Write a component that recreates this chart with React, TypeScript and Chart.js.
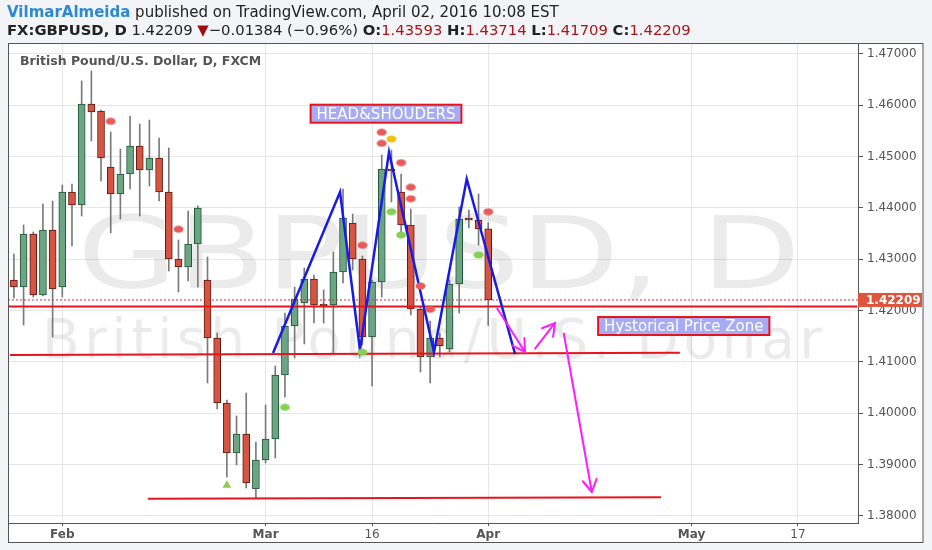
import React, { useEffect, useRef } from "react";
import { Chart, registerables } from "chart.js";

Chart.register(...registerables);

// ---------- data (bar index 0 = Feb 1, 2016; one index per trading day) ----------
const barIndex = [
  -5, -4, -3, -2, -1, 0, 1, 2, 3, 4, 5, 6, 7, 8, 9, 10, 11, 12, 13, 14,
  15, 16, 17, 18, 19, 20, 21, 22, 23, 24, 25, 26, 27, 28, 29, 30, 31, 32, 33, 34,
  35, 36, 37, 38, 39, 40, 41, 42, 43, 44,
];
const opens = [
  1.42598, 1.42461, 1.43494, 1.42305, 1.43572, 1.42461, 1.44312, 1.44059, 1.46026, 1.4589,
  1.44799, 1.44273, 1.44662, 1.45208, 1.4474, 1.44974, 1.44312, 1.43007, 1.42851, 1.43299,
  1.42598, 1.41468, 1.40202, 1.39227, 1.39598, 1.38526, 1.39091, 1.395, 1.40747, 1.41701,
  1.42149, 1.42617, 1.42111, 1.42111, 1.42753, 1.43708, 1.43007, 1.41487, 1.42559, 1.4476,
  1.44312, 1.43669, 1.42033, 1.41098, 1.41468, 1.41253, 1.4252, 1.43786, 1.43766, 1.43593,
];
const highs = [
  1.43104, 1.43669, 1.43533, 1.44078, 1.44136, 1.44448, 1.44468, 1.46474, 1.46669, 1.45909,
  1.45481, 1.45149, 1.45792, 1.45636, 1.45714, 1.45364, 1.45169, 1.43377, 1.43942, 1.44039,
  1.43046, 1.41565, 1.4026, 1.39948, 1.40396, 1.39442, 1.40163, 1.40922, 1.41955, 1.42461,
  1.42831, 1.42695, 1.42403, 1.43143, 1.4437, 1.43883, 1.43065, 1.42598, 1.45033, 1.4513,
  1.44662, 1.43981, 1.42072, 1.41799, 1.41565, 1.42598, 1.4402, 1.43961, 1.44273, 1.43714,
];
const lows = [
  1.42247, 1.41721, 1.42266, 1.42286, 1.41487, 1.42266, 1.4326, 1.43844, 1.45305, 1.44526,
  1.43513, 1.43786, 1.4437, 1.43844, 1.44429, 1.44136, 1.42773, 1.42364, 1.42578, 1.42461,
  1.40591, 1.40085, 1.3876, 1.38994, 1.38546, 1.38351, 1.39033, 1.3913, 1.40318, 1.41078,
  1.41351, 1.4176, 1.4176, 1.41176, 1.42539, 1.42792, 1.41331, 1.40533, 1.42266, 1.44117,
  1.43435, 1.41916, 1.40805, 1.40591, 1.41098, 1.41195, 1.41955, 1.4361, 1.43279, 1.41709,
];
const closes = [
  1.42461, 1.43494, 1.42305, 1.43572, 1.42422, 1.44312, 1.44059, 1.46026, 1.4587, 1.44974,
  1.44273, 1.44662, 1.45208, 1.4474, 1.44974, 1.44312, 1.43007, 1.42851, 1.43299, 1.44,
  1.41468, 1.40202, 1.39227, 1.39598, 1.38643, 1.39091, 1.395, 1.40747, 1.41701, 1.42227,
  1.42617, 1.42111, 1.42091, 1.42753, 1.43805, 1.43007, 1.41487, 1.42559, 1.4476, 1.44721,
  1.43669, 1.42033, 1.41098, 1.41468, 1.41312, 1.4252, 1.43786, 1.43766, 1.43591, 1.42209,
];

const lastPrice = 1.42209;

const xTickIndex = [0, 21, 32, 44, 65, 76];
const xTickLabels = ["Feb", "Mar", "16", "Apr", "May", "17"];
const yTickValues = [1.38, 1.39, 1.4, 1.41, 1.42, 1.43, 1.44, 1.45, 1.46, 1.47];
const xRange = [-5.61, 82.2];
const yRange = [1.378636, 1.471948];

// indicator markers
const redDotX = [5, 12, 31, 33, 33, 35, 36, 36, 37, 38, 44];
const redDotY = [1.45689, 1.43585, 1.43274, 1.45475, 1.4526, 1.44883, 1.44403, 1.44181, 1.42481, 1.42027, 1.43928];
const greenDotX = [23, 31, 34, 35, 43];
const greenDotY = [1.40118, 1.41189, 1.43928, 1.43474, 1.43084];
const yellowDotX = [34];
const yellowDotY = [1.45344];
const triangleX = [17];
const triangleY = [1.38597];

// drawings
const zigzagX = [21.77, 28.69, 30.75, 33.75, 38.4, 41.78, 46.77];
const zigzagY = [1.41176, 1.44312, 1.41234, 1.45091, 1.41195, 1.44565, 1.41156];
const levelTopX = [-5.61, 82.1];
const levelTopY = [1.4208, 1.4208];
const levelMidX = [-5.4, 63.8];
const levelMidY = [1.41137, 1.41182];
const levelLowX = [8.85, 61.85];
const levelLowY = [1.38337, 1.38364];
const arrow1X = [44.9, 47.8];
const arrow1Y = [1.42052, 1.41195];
const arrow2X = [48.8, 50.9];
const arrow2Y = [1.41253, 1.4176];
const arrow3X = [51.8, 54.7];
const arrow3Y = [1.41565, 1.38468];

const noteTexts = ["HEAD&SHOUDERS", "Hystorical Price Zone"];
const noteX = [33.44, 64.2];
const noteY = [1.45837, 1.41701];

// ---------- helpers ----------
const pts = (xs: number[], ys: number[]) => xs.map((x, i) => ({ x, y: ys[i] }));

function ellipseCanvas(color: string) {
  const c = document.createElement("canvas");
  c.width = 11;
  c.height = 8;
  const g = c.getContext("2d")!;
  g.fillStyle = color;
  g.beginPath();
  g.ellipse(5.5, 4, 5, 3.5, 0, 0, Math.PI * 2);
  g.fill();
  return c;
}

const UP = "#6ba583";
const DOWN = "#d75442";
const UP_BORDER = "#225437";
const DOWN_BORDER = "#5b1a13";
const LEVEL_RED = "#e8141c";
const MAGENTA = "#ff1cff";

const decorPlugin = {
  id: "decor",
  beforeDraw(chart: any) {
    const { ctx, width, height, chartArea } = chart;
    const yS = chart.scales.y;
    const xS = chart.scales.x;
    ctx.save();
    ctx.fillStyle = "#f2f4f7";
    ctx.fillRect(0, 0, width, height);
    ctx.fillStyle = "#ffffff";
    ctx.fillRect(chartArea.left, chartArea.top, yS.right - chartArea.left, xS.bottom - chartArea.top);
    ctx.restore();
  },
  beforeDatasetsDraw(chart: any) {
    const { ctx, chartArea } = chart;
    ctx.save();
    ctx.fillStyle = "rgba(0,0,0,0.08)";
    ctx.textBaseline = "alphabetic";
    ctx.font = '100px "DejaVu Sans"';
    ctx.textAlign = "center";
    ctx.translate(chartArea.left + (chartArea.right - chartArea.left) * 0.507, chartArea.top + 244);
    ctx.scale(1.29, 1);
    ctx.fillText("GBPUSD, D", 0, 0);
    ctx.restore();
    ctx.save();
    ctx.fillStyle = "rgba(0,0,0,0.08)";
    ctx.textBaseline = "alphabetic";
    ctx.font = '55px "DejaVu Sans"';
    ctx.textAlign = "left";
    (ctx as any).letterSpacing = "4.5px";
    ctx.fillText("British Pound/U.S. Dollar", chartArea.left + 34, chartArea.top + 314);
    ctx.restore();
    // chart title
    ctx.save();
    ctx.fillStyle = "#555555";
    ctx.font = 'bold 12.5px "DejaVu Sans"';
    ctx.textBaseline = "middle";
    ctx.textAlign = "left";
    ctx.fillText("British Pound/U.S. Dollar, D, FXCM", chartArea.left + 12, chartArea.top + 18);
    ctx.restore();
  },
  afterDatasetsDraw(chart: any) {
    const { ctx } = chart;
    const xS = chart.scales.x;
    const yS = chart.scales.y;
    // arrow heads
    chart.data.datasets.forEach((ds: any, i: number) => {
      if (!ds.arrowHead) return;
      const meta = chart.getDatasetMeta(i);
      const n = meta.data.length;
      const p1 = meta.data[n - 2];
      const p2 = meta.data[n - 1];
      const ang = Math.atan2(p2.y - p1.y, p2.x - p1.x);
      const L = 14;
      const a = (30 * Math.PI) / 180;
      ctx.save();
      ctx.strokeStyle = ds.borderColor;
      ctx.lineWidth = ds.borderWidth;
      ctx.lineCap = "round";
      ctx.beginPath();
      ctx.moveTo(p2.x - L * Math.cos(ang - a), p2.y - L * Math.sin(ang - a));
      ctx.lineTo(p2.x, p2.y);
      ctx.lineTo(p2.x - L * Math.cos(ang + a), p2.y - L * Math.sin(ang + a));
      ctx.stroke();
      ctx.restore();
    });
    // text notes
    noteTexts.forEach((t, i) => {
      const cx = xS.getPixelForValue(noteX[i]);
      const cy = yS.getPixelForValue(noteY[i]);
      ctx.save();
      ctx.font = '15px "DejaVu Sans"';
      const w = ctx.measureText(t).width + 12;
      const h = 18;
      ctx.fillStyle = "#a7abf3";
      ctx.fillRect(cx - w / 2, cy - h / 2, w, h);
      ctx.strokeStyle = LEVEL_RED;
      ctx.lineWidth = 2;
      ctx.strokeRect(cx - w / 2, cy - h / 2, w, h);
      ctx.fillStyle = "#ffffff";
      ctx.textAlign = "center";
      ctx.textBaseline = "middle";
      ctx.fillText(t, cx, cy + 1);
      ctx.restore();
    });
  },
  afterDraw(chart: any) {
    const { ctx, chartArea } = chart;
    const xS = chart.scales.x;
    const yS = chart.scales.y;
    // last price label
    const py = yS.getPixelForValue(lastPrice);
    ctx.save();
    ctx.fillStyle = "#e0533c";
    ctx.fillRect(chartArea.right, py - 7, yS.right - chartArea.right - 1, 14);
    ctx.fillStyle = "#ffffff";
    ctx.font = 'bold 12px "DejaVu Sans"';
    ctx.textBaseline = "middle";
    ctx.textAlign = "left";
    ctx.fillText(lastPrice.toFixed(5), chartArea.right + 8, py + 0.5);
    ctx.restore();
    // outer frame
    ctx.save();
    ctx.strokeStyle = "#555555";
    ctx.lineWidth = 1;
    ctx.strokeRect(
      chartArea.left + 0.5,
      chartArea.top - 0.5,
      yS.right - chartArea.left - 0.5,
      xS.bottom - chartArea.top
    );
    ctx.restore();
  },
};

export default function App() {
  const ref = useRef<HTMLCanvasElement | null>(null);

  useEffect(() => {
    if (!ref.current) return;
    const bodyColors = barIndex.map((_, i) => (closes[i] >= opens[i] ? UP : DOWN));
    const bodyBorders = barIndex.map((_, i) => (closes[i] >= opens[i] ? UP_BORDER : DOWN_BORDER));
    const lineDs = (data: any[], color: string, width: number, order: number, extra: any = {}) => ({
      type: "line",
      data,
      borderColor: color,
      borderWidth: width,
      pointRadius: 0,
      fill: false,
      tension: 0,
      order,
      ...extra,
    });

    const chart = new Chart(ref.current, {
      type: "bar",
      data: {
        datasets: [
          {
            type: "scatter",
            data: pts(redDotX, redDotY),
            pointStyle: ellipseCanvas("#e85a5c"),
            pointRadius: 5,
            order: 0,
          },
          {
            type: "scatter",
            data: pts(greenDotX, greenDotY),
            pointStyle: ellipseCanvas("#86cf52"),
            pointRadius: 5,
            order: 0,
          },
          {
            type: "scatter",
            data: pts(yellowDotX, yellowDotY),
            pointStyle: ellipseCanvas("#f4c20d"),
            pointRadius: 5,
            order: 0,
          },
          {
            type: "scatter",
            data: pts(triangleX, triangleY),
            pointStyle: "triangle",
            pointRadius: 5,
            pointBackgroundColor: "#86cf52",
            pointBorderColor: "#86cf52",
            pointBorderWidth: 0,
            order: 0,
          },
          lineDs(pts(arrow1X, arrow1Y), MAGENTA, 2, 1, { arrowHead: true }),
          lineDs(pts(arrow2X, arrow2Y), MAGENTA, 2, 1, { arrowHead: true }),
          lineDs(pts(arrow3X, arrow3Y), MAGENTA, 2, 1, { arrowHead: true }),
          lineDs(pts(zigzagX, zigzagY), "#1a1ae6", 2.5, 2),
          lineDs(pts(levelTopX, levelTopY), LEVEL_RED, 2, 3),
          lineDs(pts(levelMidX, levelMidY), LEVEL_RED, 2, 3),
          lineDs(pts(levelLowX, levelLowY), LEVEL_RED, 2, 3),
          lineDs(pts(xRange, [lastPrice, lastPrice]), "#e0302a", 1, 3, { borderDash: [2, 2] }),
          {
            type: "bar",
            data: barIndex.map((x, i) => ({ x, y: [opens[i], closes[i]] })),
            backgroundColor: bodyColors,
            borderColor: bodyBorders,
            borderWidth: 1,
            borderSkipped: false,
            barThickness: 7,
            minBarLength: 2,
            grouped: false,
            order: 4,
          },
          {
            type: "bar",
            data: barIndex.map((x, i) => ({ x, y: [lows[i], highs[i]] })),
            backgroundColor: "#7a7a7a",
            borderWidth: 0,
            barThickness: 1,
            grouped: false,
            order: 5,
          },
        ] as any,
      },
      options: {
        responsive: false,
        animation: false,
        events: [],
        layout: { padding: { left: 8, top: 44, right: 9, bottom: 7 } },
        plugins: { legend: { display: false }, tooltip: { enabled: false }, title: { display: false } },
        scales: {
          x: {
            type: "linear",
            min: xRange[0],
            max: xRange[1],
            offset: false,
            afterBuildTicks: (s: any) => {
              s.ticks = xTickIndex.map((v) => ({ value: v }));
            },
            afterFit: (s: any) => {
              s.height = 20;
            },
            grid: { color: "#e6e6e6", offset: false, tickLength: 3, tickColor: "#555555" },
            border: { color: "#555555", width: 1 },
            ticks: {
              autoSkip: false,
              maxRotation: 0,
              padding: 2,
              color: "#555555",
              font: (c: any) => {
                const i = xTickIndex.indexOf(c.tick ? c.tick.value : -999);
                const lbl = i >= 0 ? xTickLabels[i] : "";
                return { family: "DejaVu Sans", size: 12, weight: isNaN(Number(lbl)) ? "bold" : "normal" };
              },
              callback: (v: any) => {
                const i = xTickIndex.indexOf(Number(v));
                return i >= 0 ? xTickLabels[i] : "";
              },
            },
          },
          y: {
            type: "linear",
            position: "right",
            min: yRange[0],
            max: yRange[1],
            beginAtZero: false,
            afterBuildTicks: (s: any) => {
              s.ticks = yTickValues.map((v) => ({ value: v }));
            },
            afterFit: (s: any) => {
              s.width = 65;
            },
            grid: { color: "#e6e6e6", tickLength: 5, tickColor: "#555555" },
            border: { color: "#555555", width: 1 },
            ticks: {
              padding: 4,
              color: "#555555",
              font: { family: "DejaVu Sans", size: 12 },
              callback: (v: any) => Number(v).toFixed(5),
            },
          },
        },
      } as any,
      plugins: [decorPlugin as any],
    });
    return () => chart.destroy();
  }, []);

  const red = { color: "#a8161b" };
  return (
    <div style={{ position: "absolute", left: 0, top: 0, width: 932, height: 550, background: "#f2f4f7", overflow: "hidden" }}>
      <canvas ref={ref} width={932} height={550} style={{ position: "absolute", left: 0, top: 0, width: 932, height: 550 }} />
      <div
        style={{
          position: "absolute",
          left: 7,
          top: 3,
          font: '15px "DejaVu Sans"',
          lineHeight: "18px",
          color: "#222222",
          whiteSpace: "nowrap",
        }}
      >
        <span style={{ color: "#2d89d6", fontWeight: "bold" }}>VilmarAlmeida</span> published on TradingView.com, April 02, 2016 10:08 EST
      </div>
      <div
        style={{
          position: "absolute",
          left: 7,
          top: 21,
          font: '14.8px "DejaVu Sans"',
          lineHeight: "18px",
          color: "#222222",
          whiteSpace: "nowrap",
        }}
      >
        <b>FX:GBPUSD, D</b> 1.42209 <span style={{ color: "#9c0d0d" }}>▼</span>−0.01384 (−0.96%) <b>O:</b>
        <span style={red}>1.43593</span> <b>H:</b>
        <span style={red}>1.43714</span> <b>L:</b>
        <span style={red}>1.41709</span> <b>C:</b>
        <span style={red}>1.42209</span>
      </div>
    </div>
  );
}
